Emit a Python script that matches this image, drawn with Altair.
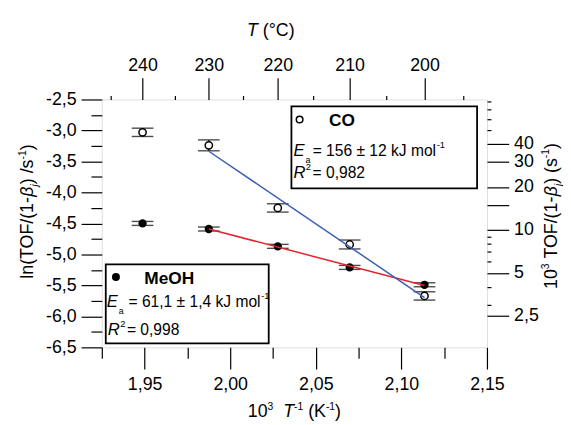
import math
import altair as alt
import pandas as pd

# ---------------- data ----------------
inv_T = [1.9488, 1.9875, 2.0278, 2.0698, 2.1135]      # 10^3 / T  (K^-1)
temp_C = [240, 230, 220, 210, 200]
meoh_ln = [-4.50, -4.59, -4.87, -5.21, -5.49]
meoh_err = [0.032, 0.032, 0.032, 0.032, 0.032]
co_ln = [-3.03, -3.24, -4.25, -4.84, -5.67]
co_err = [0.067, 0.088, 0.067, 0.072, 0.067]
fit_from = 1.96   # the fits leave out the 240 °C point

x_major = [1.95, 2.00, 2.05, 2.10, 2.15]
x_minor = [1.925, 1.975, 2.025, 2.075, 2.125]
y_major = [-2.5, -3.0, -3.5, -4.0, -4.5, -5.0, -5.5, -6.0, -6.5]
y_minor = [-2.75, -3.25, -3.75, -4.25, -4.75, -5.25, -5.75, -6.25]
top_major_C = [240, 230, 220, 210, 200]
top_minor_C = [245, 235, 225, 215, 205, 195]
right_major = [2.5, 5, 10, 15, 20, 30, 40]
right_minor = [3, 4, 6, 7, 8, 9, 50, 60, 70, 80]

X_DOM = [1.925, 2.15]
Y_DOM = [-6.5, -2.5]

rows = []
for i in range(len(inv_T)):
    rows.append({"series": "MeOH", "x": inv_T[i], "y": meoh_ln[i], "err": meoh_err[i], "T": temp_C[i]})
for i in range(len(inv_T)):
    rows.append({"series": "CO", "x": inv_T[i], "y": co_ln[i], "err": co_err[i], "T": temp_C[i]})
df = pd.DataFrame(rows)

FONT = "Liberation Sans"
OX, OY = 103, 98
W_PLOT, H_PLOT = 390, 251

xs = alt.Scale(domain=X_DOM, nice=False, zero=False)
ys = alt.Scale(domain=Y_DOM, nice=False, zero=False)
rs = alt.Scale(type="log", domain=[math.exp(Y_DOM[0]) * 1000, math.exp(Y_DOM[1]) * 1000], nice=False)

AX = dict(domain=False, grid=False, tickColor="black", tickWidth=1.2, labelColor="black",
          labelFont=FONT, labelFontSize=18, labelFlush=False, labelOverlap=False, title=None)

base = alt.Chart(df)


def x_axis_layer(values, orient, size, labels=True, expr=None, pad=6):
    kw = dict(AX)
    kw.update(orient=orient, values=values, tickSize=size, labels=labels, labelPadding=pad)
    if expr:
        kw["labelExpr"] = expr
    return base.mark_point(opacity=0).encode(
        x=alt.X("x:Q", scale=xs, axis=alt.Axis(**kw)),
        y=alt.Y("y:Q", scale=ys, axis=None))


def y_axis_layer(values, orient, size, labels=True, expr=None, pad=5, log=False):
    kw = dict(AX)
    kw.update(orient=orient, values=values, tickSize=size, labels=labels, labelPadding=pad)
    if expr:
        kw["labelExpr"] = expr
    if log:
        return base.transform_calculate(tof="exp(datum.y) * 1000").mark_point(opacity=0).encode(
            x=alt.X("x:Q", scale=xs, axis=None),
            y=alt.Y("tof:Q", scale=rs, axis=alt.Axis(**kw)))
    return base.mark_point(opacity=0).encode(
        x=alt.X("x:Q", scale=xs, axis=None),
        y=alt.Y("y:Q", scale=ys, axis=alt.Axis(**kw)))


comma2 = "replace(format(datum.value, '.2f'), '.', ',')"
comma1 = "replace(replace(format(datum.value, '.1f'), '.', ','), '\u2212', '-')"
axes = [
    x_axis_layer(x_major, "bottom", 22, expr=comma2, pad=7),
    x_axis_layer(x_minor, "bottom", 11, labels=False),
    x_axis_layer([1000 / (t + 273.15) for t in top_major_C], "top", 22,
                 expr="format(1000 / datum.value - 273.15, '.0f')", pad=3),
    x_axis_layer([1000 / (t + 273.15) for t in top_minor_C], "top", 4, labels=False),
    y_axis_layer(y_major, "left", 21, expr=comma1, pad=5),
    y_axis_layer(y_minor, "left", 11, labels=False),
    y_axis_layer(right_major, "right", 22, log=True, pad=5,
                 expr="datum.value == 15 ? '' : replace(toString(datum.value), '.', ',')"),
    y_axis_layer(right_minor, "right", 4, labels=False, log=True),
]

bars = base.transform_calculate(lo="datum.y - datum.err", hi="datum.y + datum.err")
err_rule = bars.mark_rule(color="black", strokeWidth=1.2).encode(
    x=alt.X("x:Q", scale=xs, axis=None), y=alt.Y("lo:Q", scale=ys, axis=None), y2="hi:Q")
cap_lo = bars.mark_tick(orient="horizontal", size=22, thickness=1.4, color="black").encode(
    x=alt.X("x:Q", scale=xs, axis=None), y=alt.Y("lo:Q", scale=ys, axis=None))
cap_hi = bars.mark_tick(orient="horizontal", size=22, thickness=1.4, color="black").encode(
    x=alt.X("x:Q", scale=xs, axis=None), y=alt.Y("hi:Q", scale=ys, axis=None))

pts_meoh = base.transform_filter("datum.series == 'MeOH'").mark_circle(
    size=70, color="black", opacity=1).encode(
    x=alt.X("x:Q", scale=xs, axis=None), y=alt.Y("y:Q", scale=ys, axis=None))
pts_co = base.transform_filter("datum.series == 'CO'").mark_point(
    shape="circle", filled=True, fill="white", stroke="black", strokeWidth=1.5, size=55, opacity=1).encode(
    x=alt.X("x:Q", scale=xs, axis=None), y=alt.Y("y:Q", scale=ys, axis=None))

fits = base.transform_filter(f"datum.x > {fit_from}").transform_regression(
    "x", "y", groupby=["series"]).mark_line(strokeWidth=1.5).encode(
    x=alt.X("x:Q", scale=xs, axis=None), y=alt.Y("y:Q", scale=ys, axis=None),
    color=alt.Color("series:N", scale=alt.Scale(domain=["CO", "MeOH"], range=["#3d5fb3", "#e8222a"]),
                    legend=None))

# ---------------- text helpers (page pixel coordinates) ----------------
WID = {" ": 278, "(": 333, ")": 333, "/": 278, "-": 333, ",": 278, ".": 278, "=": 584, "\u00b1": 549,
       "\u00b0": 400, "a": 556, "e": 556, "j": 222, "k": 500, "l": 222, "m": 833, "n": 556, "o": 556,
       "s": 500, "C": 722, "E": 667, "F": 611, "H": 722, "J": 500, "K": 667, "M": 833, "O": 778,
       "R": 722, "T": 611, "\u03b2": 575}


def tw(s, size):
    return sum(WID.get(c, 556) for c in s) * size / 1000


ONE = alt.Data(values=[{"k": 0}])


def text_layer(s, x, y, size, style="normal", weight="normal", angle=0):
    mk = dict(text=s, align="left", baseline="alphabetic", font=FONT, fontSize=round(size, 2),
              fontStyle=style, fontWeight=weight, color="black")
    if angle:
        mk["angle"] = angle
    return alt.Chart(ONE).mark_text(**mk).encode(x=alt.value(round(x - OX, 2)), y=alt.value(round(y - OY, 2)))


def seg_size(kind, size):
    if "sup" in kind:
        return size * 0.58, -size * 0.40
    if "sub" in kind:
        return size * 0.58, size * 0.28
    return size, 0.0


def total_len(segs, size):
    return sum(tw(s, seg_size(k, size)[0]) for s, k in segs)


def compose(segs, x, y, size, vertical=False):
    out = []
    pos = y if vertical else x
    for s, kind in segs:
        fs, off = seg_size(kind, size)
        style = "italic" if "it" in kind else "normal"
        weight = "bold" if "bd" in kind else "normal"
        core = s.strip()
        lead = tw(s[: len(s) - len(s.lstrip())], fs)
        if core:
            if vertical:
                out.append(text_layer(core, x + off, pos - lead, fs, style, weight, angle=270))
            else:
                out.append(text_layer(core, pos + lead, y + off, fs, style, weight))
        if vertical:
            pos -= tw(s, fs)
        else:
            pos += tw(s, fs)
    return out


TS = 18
texts = []
bottom_title = [("10", "n"), ("3", "sup"), ("  ", "n"), ("T", "it"), ("-1", "sup"), (" (K", "n"), ("-1", "sup"), (")", "n")]
texts += compose(bottom_title, 298 - total_len(bottom_title, TS) / 2, 420, TS)
top_title = [("T", "it"), (" (\u00b0C)", "n")]
texts += compose(top_title, 250, 33.5, TS)
left_title = [("ln(TOF/(1-", "n"), ("\u03b2", "it"), ("j", "itsub"), (") /s", "n"), ("-1", "sup"), (")", "n")]
texts += compose(left_title, 33, 211.5 + total_len(left_title, TS) / 2, TS, vertical=True)
right_title = [("10", "n"), ("3", "sup"), (" TOF/(1-", "n"), ("\u03b2", "it"), ("j", "itsub"), (") (s", "n"), ("-1", "sup"), (")", "n")]
texts += compose(right_title, 563.5, 216 + total_len(right_title, TS) / 2, TS, vertical=True)

# ---------------- legend boxes ----------------
def box(x1, y1, x2, y2):
    return alt.Chart(ONE).mark_rect(fill="white", stroke="black", strokeWidth=1.8).encode(
        x=alt.value(x1 - OX), x2=alt.value(x2 - OX), y=alt.value(y1 - OY), y2=alt.value(y2 - OY))


legend = [box(295, 105, 483, 188), box(107, 265, 272, 345)]
legend.append(alt.Chart(ONE).mark_point(shape="circle", filled=True, fill="white", stroke="black",
                                        strokeWidth=1.5, size=45, opacity=1).encode(
    x=alt.value(303.3 - OX), y=alt.value(118.3 - OY)))
legend.append(alt.Chart(ONE).mark_circle(size=65, color="black", opacity=1).encode(
    x=alt.value(117.3 - OX), y=alt.value(277.7 - OY)))

LS = 15.8
SS = 9.5


def ea_line(x, y, value_text, eq_x):
    e = text_layer("E", x, y, LS + 1, style="italic")
    a = text_layer("a", x + tw("E", LS + 1) + 1.0, y + 7, SS - 0.5)
    body = text_layer(value_text, eq_x, y, LS)
    sup = text_layer("-1", eq_x + tw(value_text, LS) + 0.5, y - 8, SS)
    return [e, a, body, sup]


def r2_line(x, y, value_text):
    r = text_layer("R", x, y, LS + 1, style="italic")
    sx = x + tw("R", LS + 1) + 0.5
    two = text_layer("2", sx, y - 8.5, SS)
    body = text_layer(value_text, sx + tw("2", SS) + 1.5, y, LS)
    return [r, two, body]


legend += [text_layer("CO", 333, 124.5, 17.5, weight="bold")]
legend += ea_line(297, 155, "= 156 \u00b1 12 kJ mol", 316.5)
legend += r2_line(297, 178, "= 0,982")
legend += [text_layer("MeOH", 146, 284.5, 17.5, weight="bold")]
legend += ea_line(108, 308.5, "= 61,1 \u00b1 1,4 kJ mol", 130)
legend += r2_line(109, 336.7, "= 0,998")

chart = alt.layer(*axes, err_rule, cap_lo, cap_hi, pts_meoh, pts_co, fits, *legend, *texts).resolve_scale(
    x="independent", y="independent"
).properties(
    width=W_PLOT, height=H_PLOT,
    padding={"left": OX - 8, "top": OY - 8, "right": 77, "bottom": 77},
    autosize="none",
).configure_view(stroke="black", strokeWidth=1.5).configure(font=FONT, background="white")

chart.save("out.html", embed_options={"renderer": "svg", "actions": False})
